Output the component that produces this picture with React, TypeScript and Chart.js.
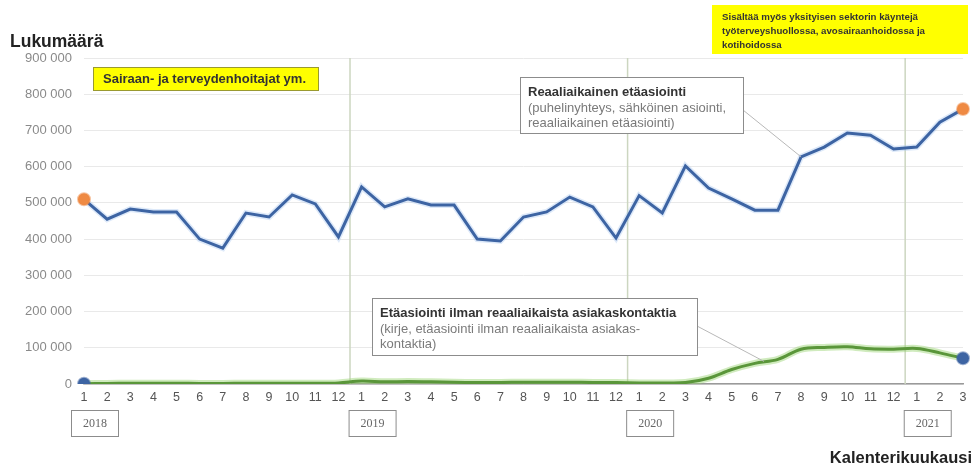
import React, { useEffect, useRef } from "react";
import { Chart, registerables } from "chart.js";

Chart.register(...registerables);

const monthLabels = [
  "1", "2", "3", "4", "5", "6", "7", "8", "9", "10", "11", "12",
  "1", "2", "3", "4", "5", "6", "7", "8", "9", "10", "11", "12",
  "1", "2", "3", "4", "5", "6", "7", "8", "9", "10", "11", "12",
  "1", "2", "3",
];
const yearLabels = ["2018", "2019", "2020", "2021"];
const yearStartIndex = [0, 12, 24, 36];

const realtimeValues = [
  510000, 455000, 483000, 475000, 475000, 400000, 375000, 472000, 461000, 522000, 497000, 406000,
  544000, 489000, 511000, 494000, 494000, 400000, 395000, 461000, 475000, 516000, 489000, 403000,
  520000, 472000, 602000, 541000, 511000, 480000, 480000, 627000, 654000, 693000, 687000, 649000,
  654000, 723000, 759000,
];
const nonRealtimeValues = [
  1000, 1500, 2000, 2000, 2000, 1500, 1500, 2000, 2000, 2000, 2000, 3000,
  8000, 6000, 7000, 6000, 5000, 4000, 4000, 5000, 5000, 5000, 4000, 4000,
  3000, 3000, 4000, 16000, 40000, 57000, 68000, 96000, 101000, 103000, 97000, 96000,
  98000, 86000, 71000,
];

const yAxisTitle = "Lukumäärä";
const xAxisTitle = "Kalenterikuukausi";
const groupNote = "Sairaan- ja terveydenhoitajat ym.";
const privateNote = [
  "Sisältää myös yksityisen sektorin käyntejä",
  "työterveyshuollossa, avosairaanhoidossa ja",
  "kotihoidossa",
];
const realtimeNote = [
  "Reaaliaikainen etäasiointi",
  "(puhelinyhteys, sähköinen asiointi,",
  "reaaliaikainen etäasiointi)",
];
const nonRealtimeNote = [
  "Etäasiointi ilman reaaliaikaista asiakaskontaktia",
  "(kirje, etäasiointi ilman reaaliaikaista asiakas-",
  "kontaktia)",
];

const BLUE = "#3d64a3";
const GREEN = "#5a963a";
const ORANGE = "#ef8a43";
const SANS = "'Liberation Sans', Arial, sans-serif";

function endPoints(n: number, r: number) {
  return Array.from({ length: n }, (_, i) => (i === 0 || i === n - 1 ? r : 0));
}

const decorPlugin = {
  id: "decor",
  beforeDatasetsDraw(chart: any) {
    const ctx = chart.ctx;
    const x = chart.scales.x;
    const area = chart.chartArea;
    ctx.save();
    ctx.strokeStyle = "#ccd6c0";
    ctx.lineWidth = 1.5;
    for (let k = 1; k < yearStartIndex.length; k++) {
      const i = yearStartIndex[k];
      const px = (x.getPixelForValue(i - 1) + x.getPixelForValue(i)) / 2;
      ctx.beginPath();
      ctx.moveTo(px, area.top);
      ctx.lineTo(px, area.bottom);
      ctx.stroke();
    }
    ctx.restore();
  },
  afterDraw(chart: any) {
    const ctx = chart.ctx;
    const x = chart.scales.x;
    const y = chart.scales.y;
    ctx.save();

    // axis titles
    ctx.fillStyle = "#222";
    ctx.font = `bold 17.5px ${SANS}`;
    ctx.textBaseline = "middle";
    ctx.textAlign = "left";
    ctx.fillText(yAxisTitle, 10, 42);
    ctx.font = `bold 16.5px ${SANS}`;
    ctx.textAlign = "right";
    ctx.fillText(xAxisTitle, 972, 458);

    // year boxes
    ctx.font = "12px 'Liberation Serif', 'DejaVu Serif', serif";
    ctx.textAlign = "center";
    yearLabels.forEach((yl, k) => {
      const cx = x.getPixelForValue(yearStartIndex[k]) + 11;
      ctx.strokeStyle = "#8c8c8c";
      ctx.lineWidth = 1;
      ctx.strokeRect(cx - 23.5, 410.5, 47, 26);
      ctx.fillStyle = "#666";
      ctx.fillText(yl, cx, 424);
    });

    // yellow note 1
    ctx.fillStyle = "#ffff00";
    ctx.fillRect(93, 67, 226, 24);
    ctx.strokeStyle = "#9a9a30";
    ctx.lineWidth = 1;
    ctx.strokeRect(93.5, 67.5, 225, 23);
    ctx.fillStyle = "#333";
    ctx.font = `bold 13px ${SANS}`;
    ctx.textAlign = "left";
    ctx.fillText(groupNote, 103, 79);

    // yellow note 2
    ctx.fillStyle = "#ffff00";
    ctx.fillRect(712, 5, 256, 49);
    ctx.fillStyle = "#333";
    ctx.font = `bold 9.7px ${SANS}`;
    privateNote.forEach((t, i) => ctx.fillText(t, 722, 17 + i * 14));

    // leader lines
    ctx.strokeStyle = "#b8b8b8";
    ctx.lineWidth = 1;
    ctx.beginPath();
    ctx.moveTo(743, 110);
    ctx.lineTo(x.getPixelForValue(31), y.getPixelForValue(realtimeValues[31]));
    ctx.stroke();
    ctx.beginPath();
    ctx.moveTo(697, 326);
    ctx.lineTo(x.getPixelForValue(30) - 14, y.getPixelForValue(nonRealtimeValues[30]) + 2);
    ctx.stroke();

    const drawNote = (bx: number, by: number, bw: number, bh: number, lines: string[]) => {
      ctx.fillStyle = "#fff";
      ctx.fillRect(bx, by, bw, bh);
      ctx.strokeStyle = "#8c8c8c";
      ctx.lineWidth = 1;
      ctx.strokeRect(bx + 0.5, by + 0.5, bw, bh);
      lines.forEach((t, i) => {
        ctx.font = i === 0 ? `bold 13px ${SANS}` : `13px ${SANS}`;
        ctx.fillStyle = i === 0 ? "#333" : "#7a7a7a";
        ctx.fillText(t, bx + 8, by + 15.5 + i * 15.5);
      });
    };
    drawNote(520, 77, 223, 56, realtimeNote);
    drawNote(372, 298, 325, 57, nonRealtimeNote);

    ctx.restore();
  },
};

export default function App() {
  const ref = useRef<HTMLCanvasElement>(null);
  useEffect(() => {
    document.body.style.margin = "0";
    const canvas = ref.current!;
    const n = monthLabels.length;
    const chart = new Chart(canvas, {
      type: "line",
      data: {
        labels: monthLabels,
        datasets: [
          {
            data: nonRealtimeValues,
            borderColor: "rgba(150,210,110,0.45)",
            borderWidth: 7,
            pointRadius: 0,
            tension: 0.35,
            order: 4,
          },
          {
            data: nonRealtimeValues,
            borderColor: GREEN,
            borderWidth: 3,
            pointRadius: endPoints(n, 6),
            pointBackgroundColor: BLUE,
            pointBorderColor: "rgba(61,100,163,0.5)",
            pointBorderWidth: 2,
            tension: 0.35,
            order: 2,
          },
          {
            data: realtimeValues,
            borderColor: "rgba(170,200,240,0.4)",
            borderWidth: 6,
            pointRadius: 0,
            tension: 0,
            order: 3,
          },
          {
            data: realtimeValues,
            borderColor: BLUE,
            borderWidth: 3,
            pointRadius: endPoints(n, 6),
            pointBackgroundColor: ORANGE,
            pointBorderColor: "rgba(239,138,67,0.5)",
            pointBorderWidth: 2,
            tension: 0,
            order: 1,
          },
        ],
      },
      options: {
        responsive: false,
        animation: false,
        layout: { padding: { left: 6, right: 17, top: 58, bottom: 0 } },
        plugins: { legend: { display: false }, tooltip: { enabled: false } },
        scales: {
          x: {
            offset: false,
            grid: { display: false, drawTicks: false },
            border: { display: true, color: "#9a9a9a", width: 1.5 },
            ticks: {
              color: "#555",
              font: { size: 12.5, family: SANS },
              padding: 6,
              maxRotation: 0,
              autoSkip: false,
            },
            afterFit: (axis: any) => { axis.height = 84; },
          },
          y: {
            min: 0,
            max: 900000,
            grid: { color: "#e9e9e9", lineWidth: 1, drawTicks: false },
            border: { display: false },
            ticks: {
              stepSize: 100000,
              color: "#8a8a8a",
              padding: 12,
              font: { size: 13, family: SANS },
              callback: (v: any) => String(v).replace(/\B(?=(\d{3})+(?!\d))/g, " "),
            },
            afterFit: (axis: any) => { axis.width = 78; },
          },
        },
      },
      plugins: [decorPlugin],
    });
    return () => chart.destroy();
  }, []);
  return <canvas ref={ref} width={980} height={468} style={{ display: "block" }} />;
}
